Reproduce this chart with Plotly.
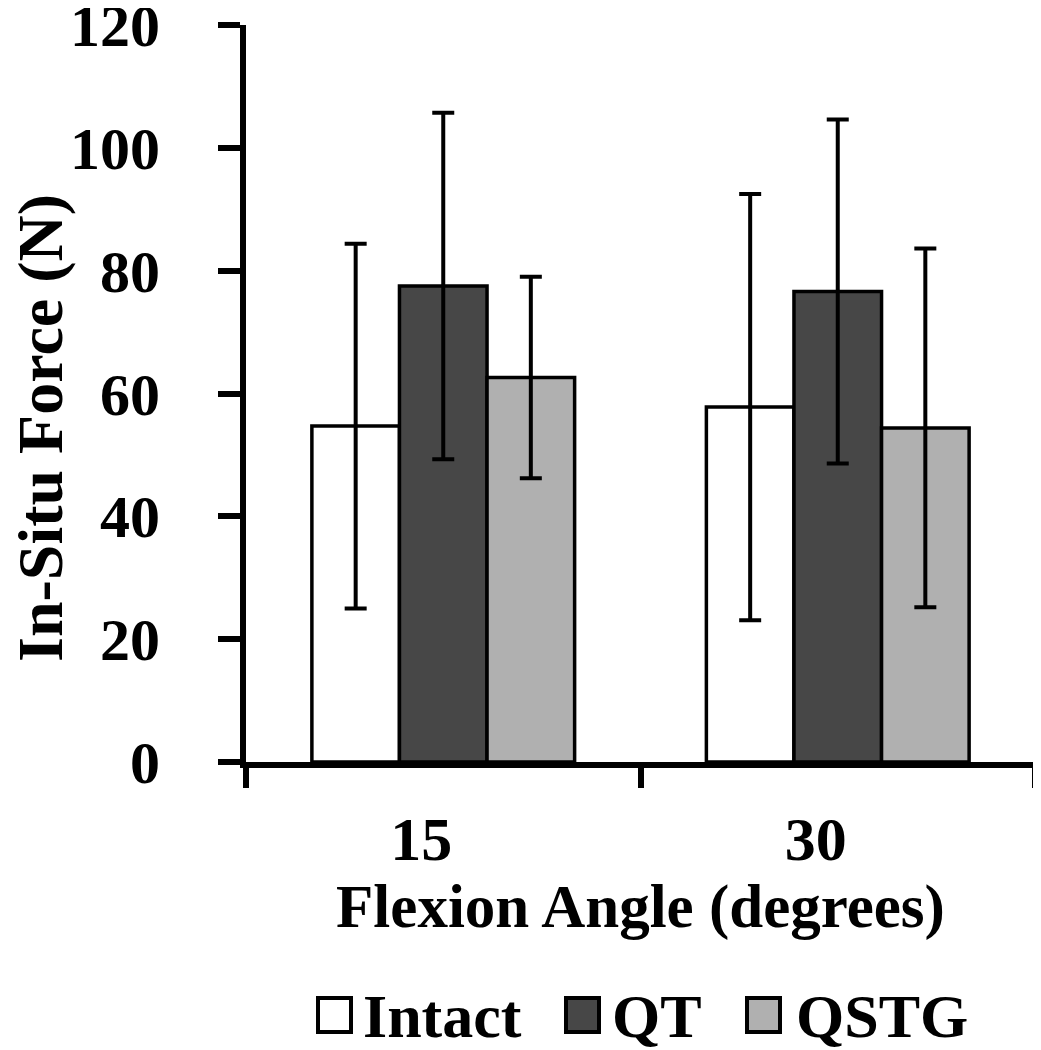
import plotly.graph_objects as go

categories = ["15", "30"]
series_names = ["Intact", "QT", "QSTG"]
intact = [54.7, 57.8]
intact_err = [29.7, 34.7]
qt = [77.5, 76.6]
qt_err = [28.2, 28.0]
qstg = [62.6, 54.4]
qstg_err = [16.4, 29.2]
y_ticks = [0, 20, 40, 60, 80, 100, 120]

colors = ["#ffffff", "#474747", "#b0b0b0"]
FONT = "Liberation Serif, Times New Roman, serif"

W, H = 1033, 1042
L, R, T, B = 238, 6, 17, 288
pw, ph = W - L - R, H - T - B
OFF = 8  # page body margin


def px(x_ref):
    return (x_ref - OFF - L) / pw


def py(y_ref):
    return (H - B - (y_ref - OFF)) / ph


fig = go.Figure()
for name, vals, errs, col in zip(series_names, [intact, qt, qstg],
                                  [intact_err, qt_err, qstg_err], colors):
    fig.add_trace(go.Bar(
        x=categories, y=vals, name=name,
        marker=dict(color=col, line=dict(color="black", width=3.5)),
        error_y=dict(type="data", array=errs, visible=True,
                     color="black", thickness=4, width=11),
        showlegend=False,
    ))

# custom legend (large boxes as in the reference)
legend_items = [
    ("Intact", colors[0], 318, 361),
    ("QT", colors[1], 566, 610),
    ("QSTG", colors[2], 747, 794),
]
for name, col, bx, tx in legend_items:
    fig.add_shape(type="rect", xref="paper", yref="paper",
                  x0=px(bx), x1=px(bx + 33), y0=py(1032), y1=py(998),
                  fillcolor=col, line=dict(color="black", width=4))
    fig.add_annotation(text=name, xref="paper", yref="paper",
                       x=px(tx), y=py(1016), xanchor="left", yanchor="middle",
                       showarrow=False,
                       font=dict(family=FONT, size=62, color="black", weight="bold"))

# y-axis title placed as in the reference
fig.add_annotation(text="In-Situ Force (N)", xref="paper", yref="paper",
                   x=px(40), y=py(428), xanchor="center", yanchor="middle",
                   textangle=-90, showarrow=False,
                   font=dict(family=FONT, size=64, color="black", weight="bold"))

fig.update_layout(
    width=W, height=H,
    margin=dict(l=L, r=R, t=T, b=B, autoexpand=False),
    plot_bgcolor="white", paper_bgcolor="white",
    barmode="group", bargap=0.334, bargroupgap=0,
    font=dict(family=FONT, color="black", weight="bold"),
    xaxis=dict(
        automargin=False,
        showline=True, linecolor="black", linewidth=6,
        ticks="outside", tickson="boundaries", ticklen=20, tickwidth=6,
        tickcolor="black",
        tickfont=dict(family=FONT, size=62, color="black", weight="bold"),
        ticklabelstandoff=18, ticklabelshift=-22,
        title=dict(text="Flexion Angle (degrees)",
                   font=dict(family=FONT, size=61, color="black", weight="bold"),
                   standoff=2),
        showgrid=False,
    ),
    yaxis=dict(
        automargin=False,
        range=[0, 120], tickvals=y_ticks, ticktext=[str(v) for v in y_ticks],
        showline=True, linecolor="black", linewidth=6,
        ticks="outside", ticklen=22, tickwidth=6, tickcolor="black",
        tickfont=dict(family=FONT, size=60, color="black", weight="bold"),
        ticklabelstandoff=46, ticklabeloverflow="allow",
        showgrid=False, zeroline=False,
    ),
)

fig.write_html("out.html")
